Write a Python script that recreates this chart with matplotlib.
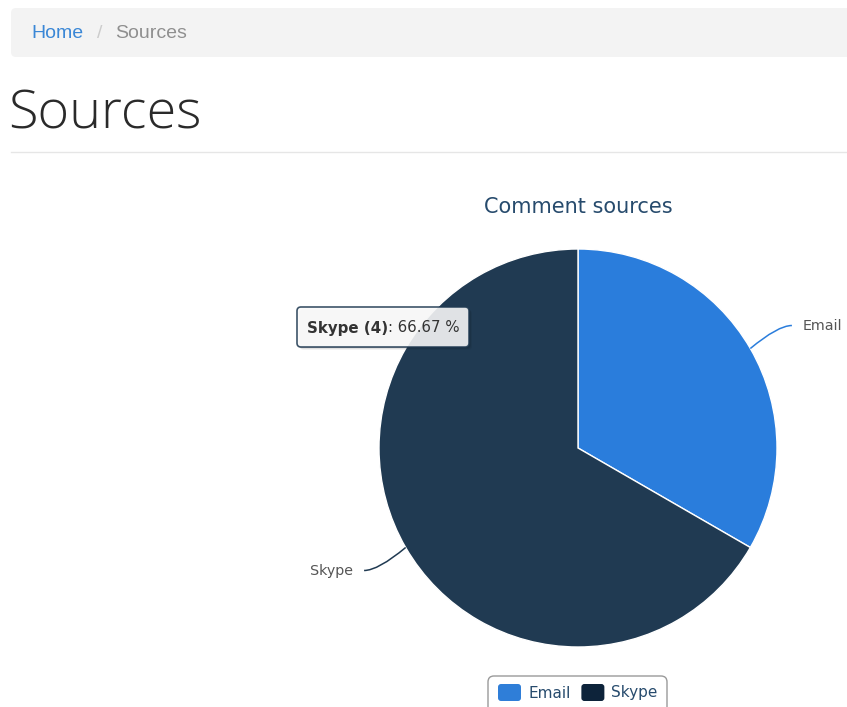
import numpy as np
import matplotlib
matplotlib.use("Agg")
import matplotlib.pyplot as plt
from matplotlib.patches import FancyBboxPatch, PathPatch
from matplotlib.path import Path

# chart data
labels = ["Email", "Skype"]
counts = [2, 4]
slice_colors = ["#2a7ddc", "#203a52"]    # Skype slice is in hover state
legend_colors = ["#2f7ed8", "#0d233a"]
hovered = 1

W, H = 847, 707
fig = plt.figure(figsize=(W / 100, H / 100), dpi=100)
ax = fig.add_axes([0, 0, 1, 1])

# page chrome: breadcrumb, heading, rule
ax.add_patch(FancyBboxPatch((11, 8), 860, 49, boxstyle="round,pad=0,rounding_size=5",
                            fc="#f3f3f3", ec="none"))
ax.text(31, 33, "Home", color="#3a87d6", fontsize=14, family="Liberation Sans",
        va="center", ha="left")
ax.text(97, 33, "/", color="#cccccc", fontsize=14, family="Liberation Sans",
        va="center", ha="left")
ax.text(115, 33, "Sources", color="#8f8f8f", fontsize=14, family="Liberation Sans",
        va="center", ha="left")
ax.text(8, 115, "Sources", color="#2a2a2a", fontsize=39, family="Open Sans",
        fontweight="light", va="center", ha="left")
ax.plot([11, 847], [151.5, 151.5], color="#e6e6e6", lw=1)

# pie
cx, cy, r = 578, 448, 199
wedges, _ = ax.pie(counts, colors=slice_colors, startangle=-90, counterclock=True,
                   center=(cx, cy), radius=r, frame=False,
                   wedgeprops=dict(edgecolor="white", linewidth=1))
ax.set_xlim(0, W)
ax.set_ylim(H, 0)
ax.set_aspect("auto")
ax.axis("off")

ax.text(cx, 207, "Comment sources", color="#274b6d", fontsize=15,
        family="DejaVu Sans", ha="center", va="center")

# data labels with soft connectors
total = sum(counts)
start = -90.0
for i, (lab, c) in enumerate(zip(labels, counts)):
    sweep = 360.0 * c / total
    mid = np.deg2rad(start + sweep / 2)
    start += sweep
    dx, dy = np.cos(mid), np.sin(mid)
    p0 = (cx + r * dx, cy + r * dy)
    p2 = (cx + (r + 48) * dx, cy + (r + 46) * dy)
    side = 1 if dx > 0 else -1
    p1 = (p2[0] - side * 14, p2[1])
    path = Path([p0, p1, p2], [Path.MOVETO, Path.CURVE3, Path.CURVE3])
    ax.add_patch(PathPatch(path, fc="none", ec=slice_colors[i], lw=1.1))
    ax.text(p2[0] + side * 11, p2[1] + 1, lab, color="#555555", fontsize=10.3,
            family="DejaVu Sans", ha="left" if side > 0 else "right", va="center")

# tooltip
tx, ty, tw, th = 297, 307, 172, 40
for k, a in [(3, 0.05), (2, 0.08), (1, 0.12)]:
    ax.add_patch(FancyBboxPatch((tx + k, ty + k), tw, th,
                                boxstyle="round,pad=0,rounding_size=4",
                                fc="black", ec="none", alpha=a))
ax.add_patch(FancyBboxPatch((tx, ty), tw, th, boxstyle="round,pad=0,rounding_size=4",
                            fc="white", ec=slice_colors[hovered], lw=1.2, alpha=0.87))
pct = 100.0 * counts[hovered] / total
t1 = ax.text(307, 328, f"{labels[hovered]} ({counts[hovered]})", fontsize=10.8,
             fontweight="bold", color="#333333", family="DejaVu Sans",
             ha="left", va="center")
fig.canvas.draw()
bb = t1.get_window_extent()
x_end = ax.transData.inverted().transform((bb.x1, bb.y0))[0]
ax.text(x_end, 328, f": {pct:.2f} %", fontsize=10.8, color="#333333",
        family="DejaVu Sans", ha="left", va="center")

# legend
ax.add_patch(FancyBboxPatch((488, 676), 179, 45, boxstyle="round,pad=0,rounding_size=6",
                            fc="white", ec="#9a9a9a", lw=1))
lx = 498
for lab, col in zip(labels, legend_colors):
    ax.add_patch(FancyBboxPatch((lx, 684), 23, 17, boxstyle="round,pad=0,rounding_size=3",
                                fc=col, ec="none"))
    t = ax.text(lx + 30, 693, lab, color="#274b6d", fontsize=11, family="DejaVu Sans",
                ha="left", va="center")
    fig.canvas.draw()
    bb = t.get_window_extent()
    lx = ax.transData.inverted().transform((bb.x1, bb.y0))[0] + 11

fig.savefig("out.png", dpi=100)
